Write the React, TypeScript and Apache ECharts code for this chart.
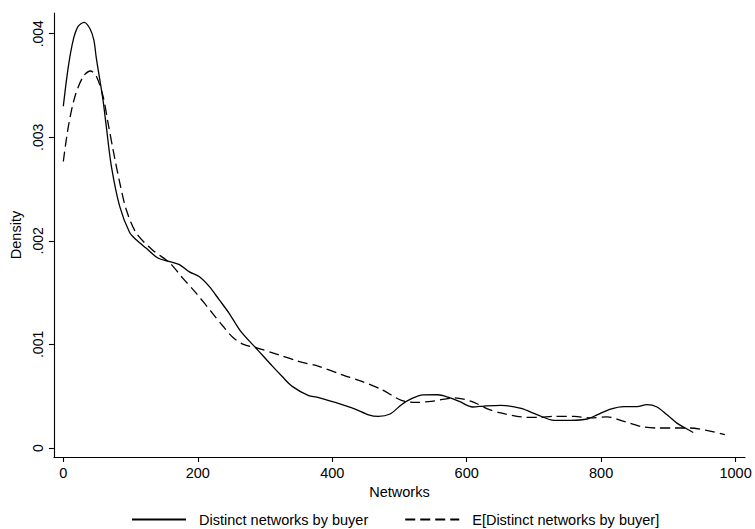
import React, { useEffect, useRef } from "react";
import * as echarts from "echarts";

// Kernel density of distinct networks per buyer (solid)
const buyerNetworks = [
  0, 7.4, 14.8, 22, 31, 39.5, 45.4, 49, 59, 64, 71.5, 84, 98.7, 108.5, 123,
  140.6, 158, 172.7, 187.5, 202, 217, 232, 246.7, 264, 288.6, 311, 325.6,
  340.5, 365, 377, 404.5, 434, 454, 468.6, 486, 503, 518, 535, 557, 572, 589,
  609, 626, 651, 681, 705.5, 730, 755, 779.5, 794, 814, 834, 853.5, 868, 883,
  898, 912.7, 925, 937,
];
const buyerDensity = [
  0.0033, 0.00368, 0.00394, 0.00407, 0.00411, 0.00405, 0.00394, 0.00377,
  0.00336, 0.0031, 0.00272, 0.00233, 0.00208, 0.00201, 0.00193, 0.001834,
  0.0018, 0.00177, 0.0017, 0.001656, 0.00156, 0.00143, 0.0013, 0.001125,
  0.00095, 0.00079, 0.00069, 0.000595, 0.000505, 0.000492, 0.00044, 0.000376,
  0.00032, 0.000305, 0.000328, 0.000418, 0.000476, 0.000512, 0.000514,
  0.000492, 0.00045, 0.000396, 0.000405, 0.000412, 0.000382, 0.00032,
  0.000267, 0.000267, 0.00028, 0.00032, 0.000376, 0.0004, 0.0004, 0.000418,
  0.000396, 0.00032, 0.00024, 0.000193, 0.00015,
];

// Kernel density of the expected number of distinct networks (dashed)
const expectedNetworks = [
  0, 7.4, 17.3, 29.6, 40.4, 49.3, 59.2, 66.6, 74, 84, 93.7, 108.5, 133, 158,
  177.6, 197, 222, 237, 252, 268, 288.6, 320.6, 350, 380, 414, 444, 473.6, 503,
  523, 547.6, 562, 582, 607, 634, 651, 681, 705.5, 730, 760, 784.5, 809, 834,
  858.6, 883, 907.7, 932, 957, 984,
];
const expectedDensity = [
  0.002766, 0.0031, 0.003394, 0.003587, 0.00364, 0.003587, 0.003394, 0.003137,
  0.00288, 0.00256, 0.0023, 0.002075, 0.00191, 0.00179, 0.00164, 0.0015,
  0.0013, 0.00118, 0.00107, 0.001, 0.000965, 0.0009, 0.000836, 0.000788,
  0.000708, 0.000643, 0.000563, 0.00046, 0.00044, 0.00045, 0.000466, 0.000483,
  0.00045, 0.00037, 0.000338, 0.0003, 0.000295, 0.000305, 0.000305, 0.00029,
  0.0003, 0.000257, 0.000208, 0.000193, 0.000193, 0.000193, 0.00017, 0.000128,
];

const xTicks = [0, 200, 400, 600, 800, 1000];
const yTicks = [0, 0.001, 0.002, 0.003, 0.004];
const seriesNames = [
  "Distinct networks by buyer",
  "E[Distinct networks by buyer]",
];

const FONT = "'Liberation Sans', Arial, Helvetica, sans-serif";
const INK = "#000";

const formatDensity = (v: number) =>
  v === 0 ? "0" : v.toFixed(3).replace(/^0/, "");

export default function App() {
  const ref = useRef<HTMLDivElement>(null);

  useEffect(() => {
    if (!ref.current) return;
    const chart = echarts.init(ref.current, undefined, { renderer: "svg" });

    const pairs = (xs: number[], ys: number[]) => xs.map((x, i) => [x, ys[i]]);
    const axisLineStyle = { color: INK, width: 1.1 };

    chart.setOption({
      animation: false,
      backgroundColor: "#fff",
      textStyle: { fontFamily: FONT },
      grid: { left: 51, right: 10, top: 13, bottom: 72, containLabel: false },
      legend: {
        data: seriesNames,
        left: 131,
        top: 512,
        padding: 0,
        itemWidth: 54,
        itemHeight: 14,
        itemGap: 36,
        itemStyle: { opacity: 0 },
        textStyle: {
          fontFamily: FONT,
          fontSize: 14.5,
          color: INK,
          padding: [0, 0, 0, 8],
        },
      },
      xAxis: {
        type: "value",
        min: -14,
        max: 1014,
        name: "Networks",
        nameLocation: "middle",
        nameGap: 22,
        nameTextStyle: { fontFamily: FONT, fontSize: 14.5, color: INK },
        axisLine: { show: true, onZero: false, lineStyle: axisLineStyle },
        axisTick: { show: true, customValues: xTicks, length: 5, lineStyle: axisLineStyle },
        axisLabel: {
          customValues: xTicks,
          margin: 8,
          fontFamily: FONT,
          fontSize: 14.5,
          color: INK,
          formatter: (v: number) => String(v),
        },
        splitLine: { show: false },
      },
      yAxis: {
        type: "value",
        min: -0.000087,
        max: 0.0042,
        name: "Density",
        nameLocation: "middle",
        nameRotate: 90,
        nameGap: 26,
        nameTextStyle: { fontFamily: FONT, fontSize: 14.5, color: INK },
        axisLine: { show: true, onZero: false, lineStyle: axisLineStyle },
        axisTick: { show: true, customValues: yTicks, length: 5, lineStyle: axisLineStyle },
        axisLabel: {
          customValues: yTicks,
          rotate: 90,
          margin: 9,
          fontFamily: FONT,
          fontSize: 14,
          color: INK,
          formatter: formatDensity,
        },
        splitLine: { show: false },
      },
      series: [
        {
          name: seriesNames[0],
          type: "line",
          data: pairs(buyerNetworks, buyerDensity),
          symbol: "none",
          smooth: 0.3,
          lineStyle: { color: INK, width: 1.3, type: "solid" },
          itemStyle: { color: INK },
        },
        {
          name: seriesNames[1],
          type: "line",
          data: pairs(expectedNetworks, expectedDensity),
          symbol: "none",
          smooth: 0.3,
          lineStyle: { color: INK, width: 1.3, type: [10, 5] },
          itemStyle: { color: INK },
        },
      ],
    });

    return () => chart.dispose();
  }, []);

  return (
    <div
      ref={ref}
      style={{ position: "fixed", left: 0, top: 0, width: 755, height: 529, background: "#fff" }}
    />
  );
}
